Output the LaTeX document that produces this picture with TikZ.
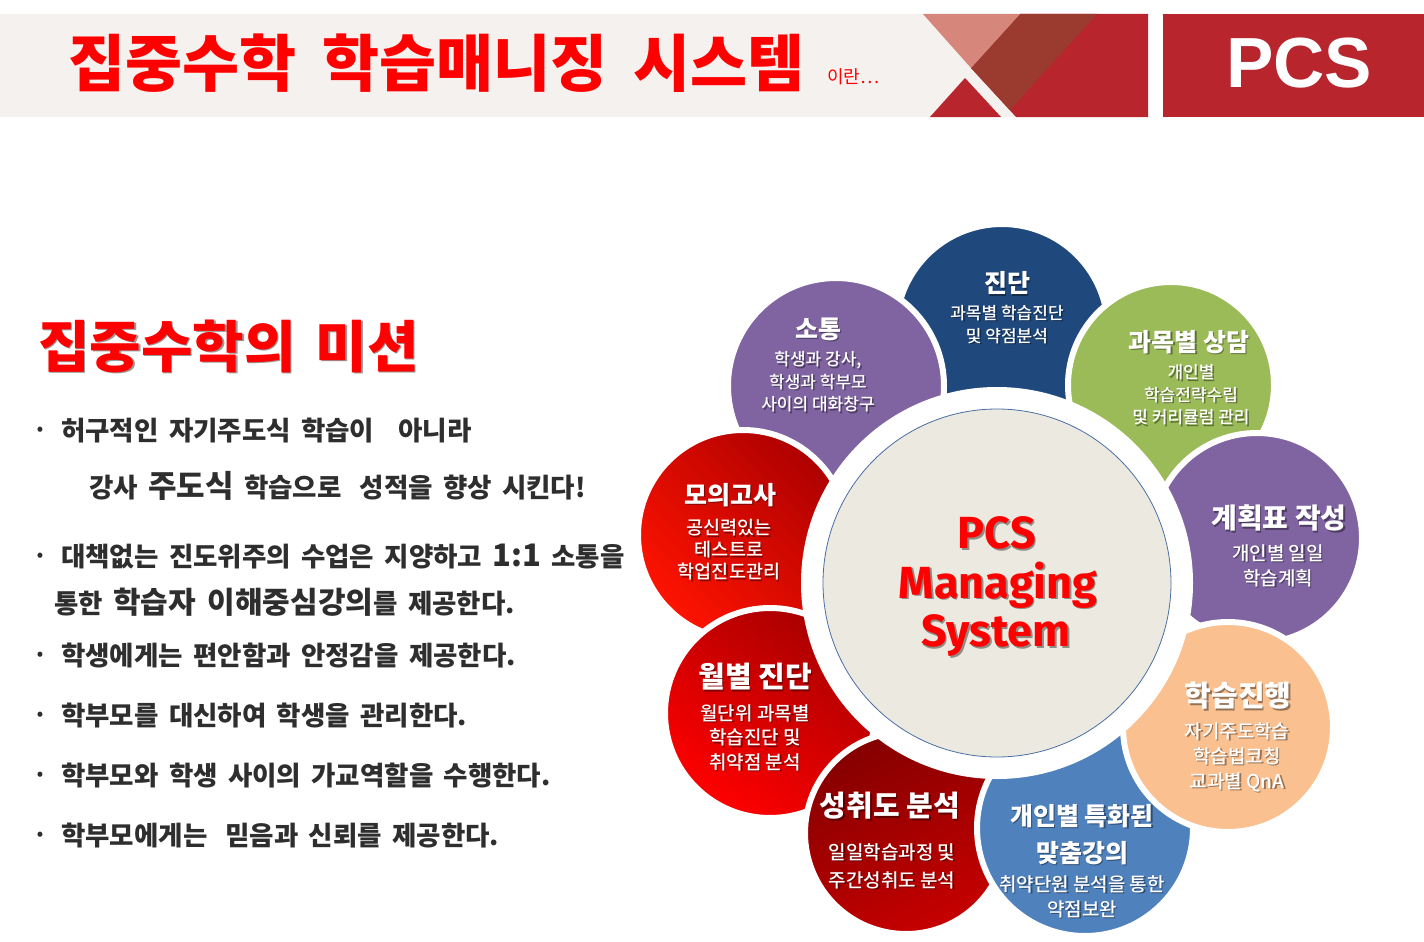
\documentclass[tikz,border=0pt]{standalone}
\usepackage{fontspec}
\setmainfont{Noto Sans CJK KR}
\newfontfamily\krmed{Noto Sans CJK KR Medium}
\newfontfamily\bodyfont{Noto Sans CJK KR}[WordSpace=1.7]
\newfontfamily\fira{Fira Sans}
\newfontfamily\lsans{Liberation Sans}
\usetikzlibrary{calc}
\definecolor{hdrbg}{HTML}{F4F1EE}
\definecolor{hdrred}{HTML}{B8252C}
\definecolor{hdrbrown}{HTML}{9B3A2F}
\definecolor{hdrsalmon}{HTML}{D6867A}
\definecolor{pcsred}{HTML}{FF0000}
\definecolor{navy}{HTML}{1F497D}
\definecolor{violet}{HTML}{8064A2}
\definecolor{olive}{HTML}{9BBB59}
\definecolor{peach}{HTML}{FAC090}
\definecolor{steel}{HTML}{4F81BD}
\definecolor{beige}{HTML}{ECEAE0}
\definecolor{ringblue}{HTML}{4A6FA5}
\definecolor{bodygray}{HTML}{2E2E2E}
\newcommand{\fsz}[2]{\fontsize{#1}{#2}\selectfont}
\newcommand{\mytxt}[4]{%
  \node[#2, text=black, text opacity=0.4, xshift=1.5pt, yshift=-1.5pt] (#1s) at (#3) {#4};
  \node[#2] (#1) at (#3) {#4};}
\tikzset{
  petal/.style={draw=white, line width=6pt},
  ttl/.style 2 args={text=white, font=\bfseries\fsz{#1}{#2}, inner sep=0pt, align=center},
  subt/.style 2 args={text=white, font=\krmed\fsz{#1}{#2}, inner sep=0pt, align=center},
  body/.style={text=bodygray, font=\bodyfont\bfseries\fsz{26.5}{30}, inner sep=0pt, anchor=base west},
  bul/.style={text=bodygray, font=\bfseries\fsz{16}{18}, inner sep=0pt},
  core/.style={text=pcsred, font=\fira\bfseries\fsz{45}{50}, inner sep=0pt},
}
\begin{document}
\begin{tikzpicture}[x=1pt,y=-1pt]
\useasboundingbox (0,0) rectangle (1424,942);
\fill[white] (0,0) rectangle (1424,942);
% ---------- header ----------
\fill[hdrbg] (0,14) rectangle (1148,117);
\fill[hdrred] (971,68) -- (1020,14) -- (1148,14) -- (1148,117) -- (1016,117) -- cycle;
\fill[hdrbrown] (971,68) -- (1020,14) -- (1097,14) -- (1010,110) -- cycle;
\fill[hdrsalmon] (923,14) -- (1020,14) -- (971,68) -- cycle;
\fill[hdrred] (965,78) -- (930,117) -- (1001,117) -- cycle;
\fill[hdrred] (1163,14) rectangle (1424,117);
\node[text=pcsred, font=\bfseries\fsz{62}{70}, inner sep=0pt, anchor=west] (htitle) at (68,63)
  {집중수학\hspace{26pt}학습매니징\hspace{26pt}시스템};
\node[text=pcsred, font=\fsz{18}{20}, inner sep=0pt, anchor=west] (hsub) at (827,77) {이란…};
\node[text=white, font=\lsans\bfseries\fsz{71}{76}, inner sep=0pt] (hpcs) at (1299,63) {PCS};
% ---------- left column ----------
\mytxt{mtitle}{text=pcsred, font=\bfseries\fsz{56}{62}, inner sep=0pt, anchor=west}{38,346}
  {집중수학의\hspace{20pt}미션}
\node[bul] (d1) at (40,431) {•};
\node[body] (b1) at (61,440) {허구적인 자기주도식 학습이\hspace{24pt}아니라};
\node[body] (b2) at (89,497) {강사 {\fsz{31}{36}주도식} 학습으로\hspace{18pt}성적을 향상 시킨다!};
\node[bul] (d3) at (40,557) {•};
\node[body] (b3) at (61,566) {대책없는 진도위주의 수업은 지양하고 {\fsz{31}{36}1:1} 소통을};
\node[body] (b4) at (54,613) {통한 {\fsz{30}{36}학습자 이해중심강의}를 제공한다.};
\node[bul] (d5) at (40,656) {•};
\node[body] (b5) at (61,665) {학생에게는 편안함과 안정감을 제공한다.};
\node[bul] (d6) at (40,716) {•};
\node[body] (b6) at (61,725) {학부모를 대신하여 학생을 관리한다.};
\node[bul] (d7) at (40,776) {•};
\node[body] (b7) at (61,785) {학부모와 학생 사이의 가교역할을 수행한다.};
\node[bul] (d8) at (40,836) {•};
\node[body] (b8) at (61,845) {학부모에게는\hspace{18pt}믿음과 신뢰를 제공한다.};
% ---------- petals ----------
\path[petal, fill=navy] (1002,330) circle[radius=106];
\path[petal, fill=violet] (836,386) circle[radius=108];
\path[petal, left color=red!68!black, right color=red!85!orange, shading angle=-45] (743,535) circle[radius=105];
\path[petal, left color=red!66!black, right color=red, shading angle=-35] (770,713) circle[radius=105];
\path[petal, left color=red!52!black, right color=red!78!black, shading angle=25] (906,833) circle[radius=101];
\path[petal, fill=steel] (1085,828) circle[radius=108];
\path[petal, fill=olive] (1171,385) circle[radius=103];
\path[petal, fill=violet] (1257,538) circle[radius=105];
\path[petal, fill=peach] (1228,727) circle[radius=105];
% ---------- core ----------
\fill[white] (997,583) circle[radius=196];
\filldraw[fill=beige, draw=ringblue, line width=0.8pt] (997,583) circle[radius=174];
\mytxt{c1}{core}{997,533}{PCS}
\mytxt{c2}{core}{998,585}{Managing}
\mytxt{c3}{core}{996,636}{System}
% ---------- petal texts ----------
\mytxt{t1}{ttl={25}{30}}{1007,283}{진단}
\mytxt{s1}{subt={17}{23}}{1007,324.5}{과목별 학습진단\\및 약점분석}
\mytxt{t2}{ttl={25}{30}}{818,329}{소통}
\mytxt{s2}{subt={17}{22.5}}{818,382}{학생과 강사,\\학생과 학부모\\사이의 대화창구}
\mytxt{t3}{ttl={25}{30}}{1189,342}{과목별 상담}
\mytxt{s3}{subt={17}{22.5}}{1191,395}{개인별\\학습전략수립\\및 커리큘럼 관리}
\mytxt{t4}{ttl={28}{32}}{1279,518}{계획표 작성}
\mytxt{s4}{subt={19}{25}}{1278,565.5}{개인별 일일\\학습계획}
\mytxt{t5}{ttl={29}{34}}{1238,696}{학습진행}
\mytxt{s5}{subt={19}{25}}{1237,757}{자기주도학습\\학습법코칭\\교과별 QnA}
\mytxt{t6}{ttl={25}{37}}{1082,834.5}{개인별 특화된\\맞춤강의}
\mytxt{s6}{subt={19}{25}}{1082,896.5}{취약단원 분석을 통한\\약점보완}
\mytxt{t7}{ttl={29}{34}}{890,806}{성취도 분석}
\mytxt{s7}{subt={19}{28}}{892,866}{일일학습과정 및\\주간성취도 분석}
\mytxt{t8}{ttl={29}{34}}{755,677}{월별 진단}
\mytxt{s8}{subt={19}{24.5}}{755,737.5}{월단위 과목별\\학습진단 및\\취약점 분석}
\mytxt{t9}{ttl={25}{30}}{730,495}{모의고사}
\mytxt{s9}{subt={18.5}{22}}{729,550}{공신력있는\\테스트로\\학업진도관리}
\end{tikzpicture}
\end{document}
